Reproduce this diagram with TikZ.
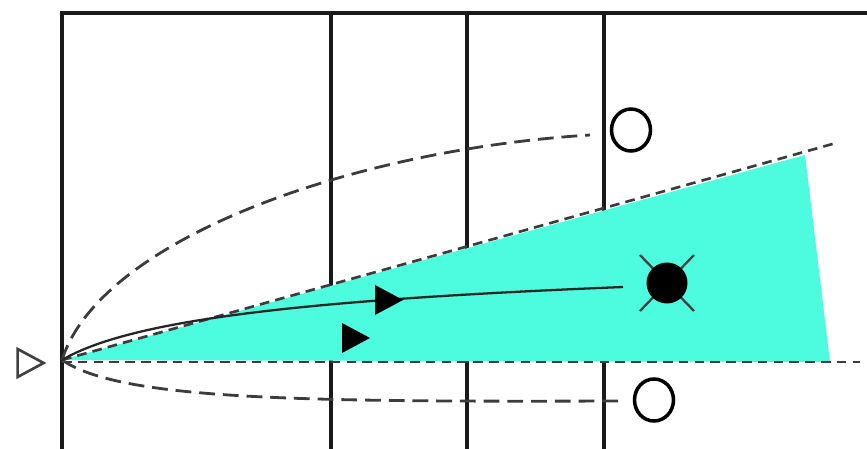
\documentclass[tikz,border=0pt]{standalone}
\usepackage{xcolor}
\usepackage{tikz}
\usetikzlibrary{shapes.geometric}

\definecolor{beamcyan}{RGB}{77,252,222}
\definecolor{dashgray}{RGB}{60,60,60}

\begin{document}
\begin{tikzpicture}[
  x=0.02cm, y=-0.02cm,
  frame/.style={line width=2.1pt, black!90},
  longdash/.style={line width=1.6pt, dashgray, dash pattern=on 9pt off 4.5pt},
  shortdash/.style={line width=1.5pt, dashgray, dash pattern=on 5.5pt off 3.5pt},
  path/.style={line width=1.3pt, black!85},
  ring/.style={draw, ellipse, line width=2pt, minimum width=0.78cm, minimum height=0.84cm, inner sep=0pt},
  hollowtri/.style={draw, isosceles triangle, isosceles triangle stretches, line width=1.5pt, black!75, minimum height=0.52cm, minimum width=0.56cm, inner sep=0pt},
  filltri/.style={fill, isosceles triangle, isosceles triangle stretches, minimum height=0.56cm, minimum width=0.6cm, inner sep=0pt},
  blob/.style={fill, circle, minimum size=0.82cm, inner sep=0pt}
]
  \useasboundingbox (0,0) rectangle (867,449);

  % frame and columns
  \draw[frame] (62,449) -- (62,13) -- (867,13);
  \foreach \colx in {331,467,604}
    \draw[frame] (\colx,13) -- (\colx,449);

  \coordinate (o) at (62,360);
  \coordinate (wedgetop) at (805,155);
  \coordinate (wedgebot) at (830,362);

  % beam
  \fill[beamcyan] (o) -- (wedgetop) -- (wedgebot) -- cycle;
  \draw[shortdash] (o) -- (836,143);
  \draw[shortdash] (62,362) -- (860,362);

  % markers
  \node[hollowtri] (src) at (26,363) {};
  \node[ring] (ringtop) at (631,130) {};
  \node[ring] (ringbot) at (654,400) {};
  \coordinate (tc) at (667,283);
  \draw[line width=1.3pt, black!75]
    ([shift={(-27,-28)}]tc) -- ([shift={(27,28)}]tc)
    ([shift={(-27,28)}]tc) -- ([shift={(27,-28)}]tc);
  \node[blob] (target) at (tc) {};

  % limits
  \draw[longdash] (o) .. controls (100,240) and (350,150) .. (590,135);
  \draw[longdash] (o) .. controls (120,400) and (300,402) .. (620,401);

  % track
  \draw[path] (o) .. controls (130,320) and (300,300) .. (623,287);
  \node[filltri] (arrA) at (384,300) {};
  \node[filltri] (arrB) at (351,338) {};
\end{tikzpicture}
\end{document}
